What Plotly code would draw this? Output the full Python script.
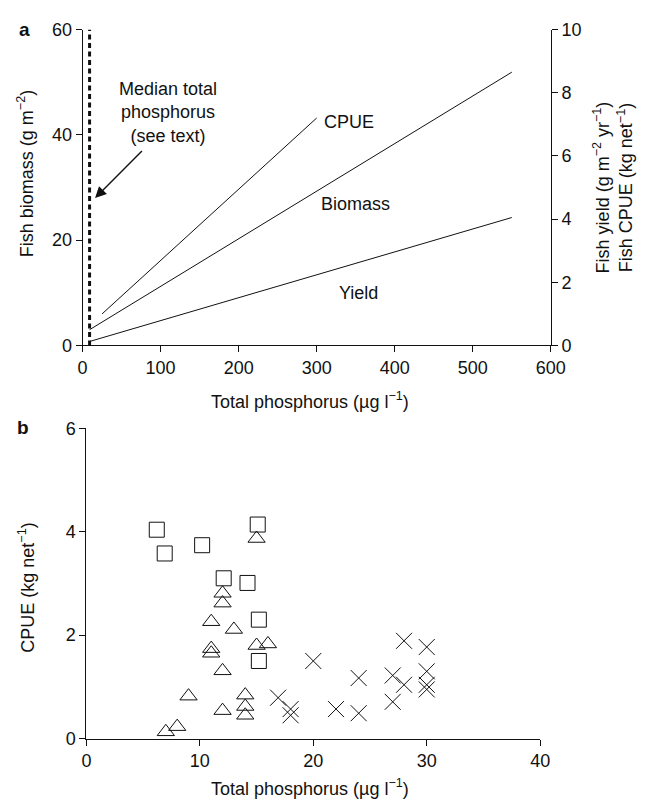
import plotly.graph_objects as go

# ---- Panel a data ----
biomass_x = [9, 550]
biomass_y = [3.0, 51.9]
yield_x = [8, 550]
yield_y = [0.12, 4.05]
cpue_x = [25, 300]
cpue_y = [1.0, 7.2]
median_tp = 9
xa_ticks = [0, 100, 200, 300, 400, 500, 600]
ya_ticks = [0, 20, 40, 60]
ya2_ticks = [0, 2, 4, 6, 8, 10]

# ---- Panel b data ----
sq_x = [6.2, 6.9, 10.2, 15.1, 12.1, 14.2, 15.2, 15.2]
sq_y = [4.04, 3.58, 3.74, 4.14, 3.10, 3.01, 2.30, 1.50]
tri_x = [15, 12, 12, 11, 13, 11, 11, 15, 16, 12, 9, 14, 12, 14, 14, 7, 8]
tri_y = [3.87, 2.81, 2.62, 2.26, 2.11, 1.74, 1.65, 1.80, 1.83, 1.31, 0.82, 0.84, 0.54, 0.62, 0.45, 0.13, 0.23]
x_x = [20, 16.9, 18, 18, 22, 24, 24, 27, 27, 28, 28, 30, 30, 30, 30]
x_y = [1.50, 0.79, 0.57, 0.45, 0.57, 1.17, 0.49, 1.22, 0.71, 1.89, 1.04, 1.77, 1.30, 1.04, 0.95]
xb_ticks = [0, 10, 20, 30, 40]
yb_ticks = [0, 2, 4, 6]

FONT = "Liberation Sans, Arial, sans-serif"
FS = 18
BLACK = "#111"

fig = go.Figure()

line_style = dict(color=BLACK, width=1)
fig.add_trace(go.Scatter(x=biomass_x, y=biomass_y, mode="lines", line=line_style,
                         xaxis="x", yaxis="y", showlegend=False))
fig.add_trace(go.Scatter(x=[median_tp, median_tp], y=[0, 60], mode="lines",
                         line=dict(color=BLACK, width=3, dash="5px,3.5px"),
                         xaxis="x", yaxis="y", showlegend=False))
fig.add_trace(go.Scatter(x=yield_x, y=yield_y, mode="lines", line=line_style,
                         xaxis="x", yaxis="y2", showlegend=False))
fig.add_trace(go.Scatter(x=cpue_x, y=cpue_y, mode="lines", line=line_style,
                         xaxis="x", yaxis="y2", showlegend=False))

fig.add_trace(go.Scatter(x=sq_x, y=sq_y, mode="markers", cliponaxis=False,
                         marker=dict(symbol="square-open", size=15, color=BLACK, line=dict(width=1)),
                         xaxis="x2", yaxis="y3", showlegend=False))
fig.add_trace(go.Scatter(x=tri_x, y=tri_y, mode="markers", cliponaxis=False,
                         marker=dict(symbol="triangle-up-open", size=15, color=BLACK, line=dict(width=1)),
                         xaxis="x2", yaxis="y3", showlegend=False))
fig.add_trace(go.Scatter(x=x_x, y=x_y, mode="markers", cliponaxis=False,
                         marker=dict(symbol="x-thin-open", size=16, color=BLACK, line=dict(width=1, color=BLACK)),
                         xaxis="x2", yaxis="y3", showlegend=False))

W, H = 656, 809
def px_x(p):
    return p / W
def px_y(p):
    return 1 - p / H

axis_common = dict(showline=True, linecolor=BLACK, linewidth=1, ticks="outside", ticklen=6,
                   tickcolor=BLACK, tickwidth=1, showgrid=False, zeroline=False,
                   tickfont=dict(family=FONT, size=FS, color=BLACK))

fig.update_layout(
    width=W, height=H, margin=dict(l=0, r=0, t=0, b=0),
    paper_bgcolor="white", plot_bgcolor="white",
    font=dict(family=FONT, size=FS, color=BLACK),
    xaxis=dict(domain=[px_x(80), px_x(563)], anchor="y", range=[0, 600], tickvals=xa_ticks, **axis_common),
    yaxis=dict(domain=[px_y(344), px_y(20)], anchor="x", range=[0, 60], tickvals=ya_ticks, **axis_common),
    yaxis2=dict(overlaying="y", side="right", anchor="x", range=[0, 10], tickvals=ya2_ticks, **axis_common),
    xaxis2=dict(domain=[px_x(84), px_x(552)], anchor="y3", range=[0, 40], tickvals=xb_ticks, **axis_common),
    yaxis3=dict(domain=[px_y(747), px_y(429)], anchor="x2", range=[0, 6], tickvals=yb_ticks, **axis_common),
)

ann = []
def paper_text(text, x, y, angle=0, bold=False, size=FS, align="center"):
    ann.append(dict(text=("<b>%s</b>" % text) if bold else text, x=px_x(x), y=px_y(y),
                    xref="paper", yref="paper", showarrow=False, textangle=angle,
                    xanchor="center", yanchor="middle", align=align,
                    font=dict(family=FONT, size=size, color=BLACK)))

paper_text("a", 20, 20, bold=True, size=19)
paper_text("b", 19, 428, bold=True, size=19)
paper_text("Fish biomass (g m<sup>−2</sup>)", 22, 168, angle=-90)
paper_text("Fish yield (g m<sup>−2</sup> yr<sup>−1</sup>)<br>Fish CPUE (kg net<sup>−1</sup>)", 627, 182, angle=-90)
paper_text("Total phosphorus (µg l<sup>−1</sup>)", 315, 400)
paper_text("CPUE (kg net<sup>−1</sup>)", 22, 592, angle=-90)
paper_text("Total phosphorus (µg l<sup>−1</sup>)", 315, 797)

# line labels in data coords
for txt, xv, yv in [("CPUE", 342, 42.4), ("Biomass", 350, 26.9), ("Yield", 354, 10.0)]:
    ann.append(dict(text=txt, x=xv, y=yv, xref="x", yref="y", showarrow=False,
                    font=dict(family=FONT, size=FS, color=BLACK)))
ann.append(dict(text="Median total<br>phosphorus<br>(see text)", x=109, y=44.3, xref="x", yref="y",
                showarrow=False, font=dict(family=FONT, size=FS, color=BLACK)))
ann.append(dict(text="", x=16, y=28, ax=78, ay=37.2, xref="x", yref="y", axref="x", ayref="y",
                showarrow=True, arrowhead=2, arrowsize=1.6, arrowwidth=1.4, arrowcolor=BLACK))

fig.update_layout(annotations=ann)
fig.write_html("out.html")
